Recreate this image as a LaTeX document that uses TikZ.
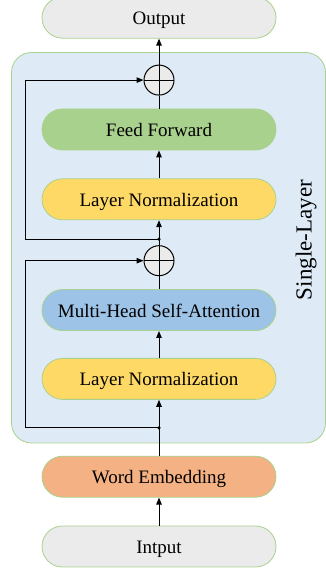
\documentclass[tikz,border=0pt]{standalone}
\usepackage{fontspec}
\setmainfont{Liberation Serif}
\usetikzlibrary{positioning, calc, arrows.meta}
\definecolor{edgegreen}{HTML}{A9D18E}
\definecolor{lightgray}{HTML}{EBEBEB}
\definecolor{ffgreen}{HTML}{A9D18E}
\definecolor{normyellow}{HTML}{FFD966}
\definecolor{attnblue}{HTML}{9DC3E6}
\definecolor{embedorange}{HTML}{F4B183}
\definecolor{layerblue}{HTML}{DEEBF7}

\begin{document}
\begin{tikzpicture}[
        x=1pt, y=1pt,
        node distance=28pt,
        block/.style={rectangle, draw=edgegreen, line width=0.8pt, rounded corners=20.5pt, minimum width=234pt, minimum height=41pt, inner sep=0pt, text height=14pt, text depth=0pt, font=\fontsize{19}{22}\selectfont},
        addnode/.style={circle, draw=black, fill=lightgray, line width=1pt, minimum size=30pt, inner sep=0pt,
            path picture={\draw[line width=1pt] (path picture bounding box.north) -- (path picture bounding box.south) (path picture bounding box.west) -- (path picture bounding box.east);}},
        arrow/.style={-{Stealth[length=7pt, width=5.5pt, inset=0pt]}, line width=1pt},
        link/.style={line width=1pt},
        dot/.style={circle, fill=black, inner sep=0pt, minimum size=3.5pt}
    ]
        \useasboundingbox (0,0) rectangle (325,573);

        % layer frame
        \draw[fill=layerblue, draw=edgegreen, line width=0.8pt, rounded corners=20pt] (11.5,130) rectangle (325.5,520.5);
        \node[rotate=90, font=\fontsize{23}{26}\selectfont] (tag) at (306,333) {Single-Layer};

        \node[block, fill=lightgray] (input) at (159,26.5) {Intput};
        \node[block, fill=embedorange, above=of input] (embed) {Word Embedding};
        \node[block, fill=normyellow, above=56pt of embed] (norm2) {Layer Normalization};
        \node[block, fill=attnblue, above=27pt of norm2] (attn) {Multi-Head Self-Attention};
        \node[addnode, above=13pt of attn] (add2) {};
        \node[block, fill=normyellow, above=69pt of attn] (norm1) {Layer Normalization};
        \node[block, fill=ffgreen, above=of norm1] (ffn) {Feed Forward};
        \node[addnode, above=13pt of ffn] (add1) {};
        \node[block, fill=lightgray, above=70pt of ffn] (output) {Output};

        \coordinate (fork2) at ($(norm2.south)!0.5!(embed.north)$);
        \coordinate (fork1) at ($(add2.north)+(0,6)$);
        \coordinate (rail) at (25,0);

        % Arrows
        \draw[arrow] (input) -- (embed);
        \draw[arrow] (embed) -- (norm2);
        \draw[arrow] (norm2) -- (attn);
        \draw[link] (attn) -- (add2);
        \draw[arrow] (add2) -- (norm1);
        \draw[arrow] (norm1) -- (ffn);
        \draw[link] (ffn) -- (add1);
        \draw[arrow] (add1) -- (output);

        % Residual paths
        \draw[arrow] (fork2) -- (fork2 -| rail) |- (add2.west);
        \draw[arrow] (fork1) -- (fork1 -| rail) |- (add1.west);
        \node[dot] at (fork2) {};
        \node[dot] at (fork1) {};

    \end{tikzpicture}
\end{document}
